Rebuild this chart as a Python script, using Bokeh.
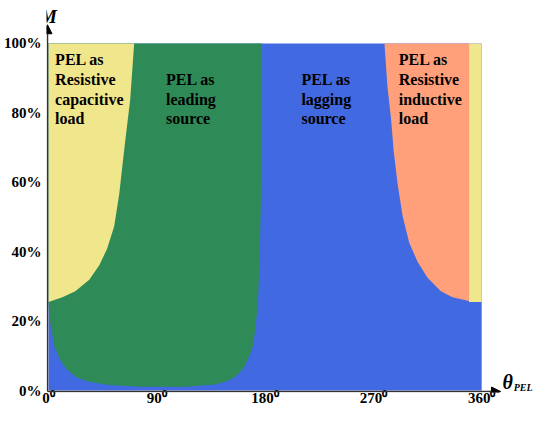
from bokeh.plotting import figure
from bokeh.models import Range1d, FixedTicker, Label, Arrow, NormalHead
from bokeh.core.properties import value
from bokeh.embed import file_html
from bokeh.resources import INLINE

# Boundary between "resistive capacitive" (yellow) and "leading source" (green)
theta_cap = [0, 11.6, 22.3, 33.9, 42.2, 48.8, 54.6, 58.8, 61.2, 63.7, 67.9, 71.2]
m_cap = [25.5, 26.9, 28.6, 31.9, 36.1, 40.9, 47.3, 56.6, 64.1, 71.7, 83.8, 100]

# Lower / right edge of the "leading source" region
theta_lead = [0, 0.5, 1.9, 4.7, 8.9, 14.3, 22.6, 33.7, 50.2, 77.8, 113.4, 138.2,
              145, 152.3, 158, 163, 167, 170, 172, 174, 175.5, 176.5, 177, 177.3]
m_lead = [25.5, 22, 18.5, 12.9, 9.3, 6.5, 3.9, 2.5, 1.6, 1.1, 1.1, 1.7,
          2.3, 3.3, 4.8, 7, 10, 13, 18, 25, 38, 55, 75, 100]

# Boundary between "lagging source" (blue) and "resistive inductive" (orange)
theta_ind = [279.2, 281.6, 284.7, 286.9, 290.2, 294.4, 299.8, 306.8, 315.0, 326.1, 335.7, 349.5]
m_ind = [100, 88, 78.2, 68.9, 59.4, 50.1, 42.6, 37.0, 32.5, 28.6, 26.9, 25.8]

# Thin capacitive strip at the right end
theta_strip = [349.5, 360]
m_strip = [25.5, 100]

x_ticks = [0, 90, 180, 270, 360]
x_labels = ["0\u2070", "90\u2070", "180\u2070", "270\u2070", "360\u2070"]
y_ticks = [0, 20, 40, 60, 80, 100]
y_labels = ["0%", "20%", "40%", "60%", "80%", "100%"]

region_text = ["PEL as\nResistive\ncapacitive\nload",
               "PEL as\nleading\nsource",
               "PEL as\nlagging\nsource",
               "PEL as\nResistive\ninductive\nload"]
region_x = [5.5, 97.7, 210.2, 291.1]
region_y = [97.7, 92.0, 92.0, 97.7]

YELLOW = "#F0E68C"
GREEN = "#2E8B57"
BLUE = "#4169E1"
ORANGE = "#FFA07A"
SERIF = "Liberation Serif"
AXIS = "#333333"

X0, X1 = -1.655, 403.9
Y0, Y1 = -0.576, 112.39

# frame is stretched past the data so the axis titles sit inside it
p = figure(width=534, height=410, output_backend="svg", toolbar_location=None,
           x_range=Range1d(X0, X1), y_range=Range1d(Y0, Y1),
           min_border_left=44, min_border_right=0, min_border_top=0,
           min_border_bottom=18)
p.outline_line_color = None
p.xgrid.visible = False
p.ygrid.visible = False

# Background: lagging source everywhere
p.quad(left=[0], right=[360], bottom=[0], top=[100], fill_color=BLUE, line_color=None)

# Leading source region
gx = theta_lead + [theta_cap[-1], 0]
gy = m_lead + [100, 100]
p.patch(gx, gy, fill_color=GREEN, line_color=None)

# Resistive capacitive region (left)
p.patch(theta_cap + [0], m_cap + [100], fill_color=YELLOW, line_color=None)

# Resistive inductive region
p.patch(theta_ind + [theta_ind[-1]], m_ind + [100], fill_color=ORANGE, line_color=None)

# Capacitive strip near 360
p.quad(left=[theta_strip[0]], right=[theta_strip[1]], bottom=[m_strip[0]], top=[m_strip[1]],
       fill_color=YELLOW, line_color=None)

p.text(x=region_x, y=region_y, text=region_text, text_font=value(SERIF),
       text_font_style="bold", text_font_size="16px", text_color="black",
       text_baseline="top", text_align="left", text_line_height=1.15)

for ax in (p.xaxis[0], p.yaxis[0]):
    ax.axis_line_color = None
    ax.major_tick_out = 0
    ax.major_tick_in = 0
    ax.minor_tick_out = 0
    ax.minor_tick_in = 0
    ax.major_label_text_font = SERIF
    ax.major_label_text_font_style = "bold"
    ax.major_label_text_font_size = "15px"
    ax.major_label_text_color = "black"

p.xaxis.ticker = FixedTicker(ticks=x_ticks)
p.xaxis.major_label_overrides = dict(zip(x_ticks, x_labels))
p.xaxis.major_label_standoff = -3
p.yaxis.ticker = FixedTicker(ticks=y_ticks)
p.yaxis.major_label_overrides = dict(zip(y_ticks, y_labels))
p.yaxis.major_label_standoff = 5

# Axis lines with arrow heads
p.add_layout(Arrow(end=NormalHead(size=9, fill_color="black", line_color="black"),
                   x_start=-0.83, y_start=-0.288, x_end=375.7, y_end=-0.288,
                   line_color=AXIS, line_width=1.5))
p.add_layout(Arrow(end=NormalHead(size=9, fill_color="black", line_color="black"),
                   x_start=-0.83, y_start=-0.288, x_end=-0.83, y_end=105.4,
                   line_color=AXIS, line_width=1.5))

p.add_layout(Label(x=0, y=Y1 - 1.7, text="M", text_font=SERIF, text_font_style="bold italic",
                   text_font_size="19px", text_align="center", text_baseline="top",
                   text_color="black"))
p.add_layout(Label(x=377.4, y=Y0, text="\u03b8", text_font=SERIF, text_font_style="bold italic",
                   text_font_size="20px", text_align="left", text_baseline="bottom",
                   text_color="black"))
p.add_layout(Label(x=386.6, y=Y0, text="PEL", text_font=SERIF, text_font_style="bold italic",
                   text_font_size="10px", text_align="left", text_baseline="bottom",
                   text_color="black"))

open("out.html", "w").write(file_html(p, INLINE))
